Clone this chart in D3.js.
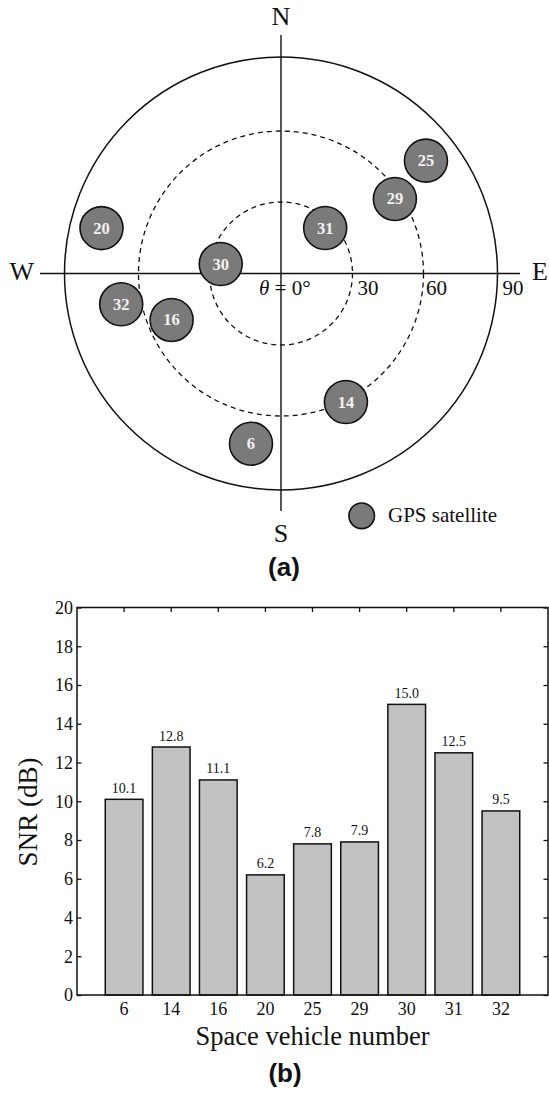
<!DOCTYPE html>
<html><head><meta charset="utf-8">
<script src="https://cdn.jsdelivr.net/npm/d3@7"></script>
<style>
body{margin:0;background:#fff}
svg{display:block}
</style>
</head><body>
<svg id="c" width="549" height="1094" style="font-family:'Liberation Serif','Times New Roman',serif"></svg>
<script>
// ---- Panel (a): sky plot data ----
const satIds     = ["25", "29", "20", "31", "30", "32", "16", "14", "6"];
const satZenith  = [76.7, 57.3, 77.3, 26.6, 25.6, 68.2, 50.0, 60.6, 72.3];   // deg from zenith (θ)
const satAzimuth = [52.1, 56.8, 284.2, 44.2, 278.9, 259.1, 247.0, 153.2, 190.0]; // deg clockwise from N
const ringTicks  = [30, 60, 90];
const compassLabels = ["N", "E", "S", "W"];
const legendLabel = "GPS satellite";

// ---- Panel (b): SNR bar chart data ----
const svNumbers = ["6", "14", "16", "20", "25", "29", "30", "31", "32"];
const snrValues = [10.1, 12.8, 11.1, 6.2, 7.8, 7.9, 15.0, 12.5, 9.5];
const yTickValues = [0, 2, 4, 6, 8, 10, 12, 14, 16, 18, 20];

const SERIF = "'Liberation Serif','Times New Roman',Times,serif";
const SANS = "'Liberation Sans',Arial,Helvetica,sans-serif";
const svg = d3.select("#c");
const ink = "#111";

// ================= Panel (a) =================
const cx = 281, cy = 273.5;
const r = d3.scaleLinear().domain([0, 30, 60, 90]).range([0, 71.5, 142.5, 216.5]);
const gA = svg.append("g").attr("transform", `translate(${cx},${cy})`);

gA.selectAll("circle.ring").data(ringTicks).join("circle")
  .attr("class", "ring")
  .attr("r", d => r(d))
  .attr("fill", "none")
  .attr("stroke", ink)
  .attr("stroke-width", d => d === 90 ? 1.5 : 1.3)
  .attr("stroke-dasharray", d => d === 90 ? null : "5,4");

gA.append("line").attr("x1", -241).attr("x2", 239).attr("y1", 0).attr("y2", 0)
  .attr("stroke", ink).attr("stroke-width", 1.4);
gA.append("line").attr("x1", 0).attr("x2", 0).attr("y1", -238.5).attr("y2", 237.5)
  .attr("stroke", ink).attr("stroke-width", 1.4);

const compassPos = {
  N: {x: 0, y: -248.5, a: "middle"},
  E: {x: 251, y: 6.5, a: "start"},
  S: {x: 0, y: 268.5, a: "middle"},
  W: {x: -247, y: 6.5, a: "end"}
};
gA.selectAll("text.compass").data(compassLabels).join("text")
  .attr("class", "compass")
  .attr("x", d => compassPos[d].x)
  .attr("y", d => compassPos[d].y)
  .attr("text-anchor", d => compassPos[d].a)
  .style("font-family", SERIF).style("fill", ink)
  .attr("font-size", 26)
  .text(d => d);

gA.selectAll("text.rt").data(ringTicks).join("text")
  .attr("class", "rt")
  .attr("x", d => r(d) + (d === 60 ? 2.5 : 5))
  .attr("y", 21)
  .style("font-family", SERIF).style("fill", ink)
  .attr("font-size", 21)
  .text(d => d);

const th = gA.append("text").attr("x", -22).attr("y", 21).attr("font-size", 21)
  .style("font-family", SERIF).style("fill", ink);
th.append("tspan").attr("font-style", "italic").text("θ");
th.append("tspan").text(" = 0°");

const sats = satIds.map((id, i) => {
  const a = satAzimuth[i] * Math.PI / 180, rr = r(satZenith[i]);
  return {id, x: rr * Math.sin(a), y: -rr * Math.cos(a)};
});
const gs = gA.selectAll("g.sat").data(sats).join("g")
  .attr("class", "sat")
  .attr("transform", d => `translate(${d.x},${d.y})`);
gs.append("circle").attr("r", 21.5)
  .attr("fill", "#7a7a7a").attr("stroke", ink).attr("stroke-width", 1.6);
gs.append("text").attr("text-anchor", "middle").attr("y", 5.5)
  .attr("font-size", 16.5).attr("font-weight", "bold")
  .style("font-family", SERIF).style("fill", "#f2f2f2").text(d => d.id);

svg.append("circle").attr("cx", 361.7).attr("cy", 515.8).attr("r", 12.8)
  .attr("fill", "#7a7a7a").attr("stroke", ink).attr("stroke-width", 1.6);
svg.append("text").attr("x", 388).attr("y", 521.7).attr("font-size", 21)
  .style("font-family", SERIF).style("fill", ink).text(legendLabel);

svg.append("text").attr("x", 284).attr("y", 576).attr("text-anchor", "middle")
  .style("font-family", SANS).style("fill", ink)
  .attr("font-weight", "bold").attr("font-size", 26).text("(a)");

// ================= Panel (b) =================
const L = 77, R = 548, T = 607.5, B = 995;
const x = d3.scaleBand().domain(svNumbers).range([L, R]).paddingInner(0.2).paddingOuter(0.6);
const y = d3.scaleLinear().domain([0, 20]).range([B, T]);
const gB = svg.append("g");

gB.append("g").attr("transform", `translate(${L},0)`)
  .call(d3.axisLeft(y).tickValues(yTickValues).tickSize(-4.5).tickPadding(4))
  .call(g => g.select(".domain").remove())
  .call(g => g.selectAll("line").attr("stroke", ink).attr("stroke-width", 1.3))
  .call(g => g.selectAll("text").attr("font-size", 18).style("font-family", SERIF).style("fill", ink));
gB.append("g").attr("transform", `translate(${R},0)`)
  .call(d3.axisRight(y).tickValues(yTickValues).tickSize(-4.5).tickFormat(""))
  .call(g => g.select(".domain").remove())
  .call(g => g.selectAll("line").attr("stroke", ink).attr("stroke-width", 1.3));
gB.append("g").attr("transform", `translate(0,${T})`)
  .call(d3.axisTop(x).tickSize(-4.5).tickFormat(""))
  .call(g => g.select(".domain").remove())
  .call(g => g.selectAll("line").attr("stroke", ink).attr("stroke-width", 1.3));
gB.append("g").attr("transform", `translate(0,${B})`)
  .call(d3.axisBottom(x).tickSize(0).tickPadding(7))
  .call(g => g.select(".domain").remove())
  .call(g => g.selectAll("text").attr("font-size", 18).style("font-family", SERIF).style("fill", ink));

gB.selectAll("rect.bar").data(snrValues).join("rect")
  .attr("class", "bar")
  .attr("x", (d, i) => x(svNumbers[i]))
  .attr("width", x.bandwidth())
  .attr("y", d => y(d))
  .attr("height", d => B - y(d))
  .attr("fill", "#c2c2c2").attr("stroke", ink).attr("stroke-width", 1.5);

gB.selectAll("text.val").data(snrValues).join("text")
  .attr("class", "val")
  .attr("x", (d, i) => x(svNumbers[i]) + x.bandwidth() / 2)
  .attr("y", d => y(d) - 6.5)
  .attr("text-anchor", "middle").attr("font-size", 14)
  .style("font-family", SERIF).style("fill", ink)
  .text(d => d.toFixed(1));

gB.append("rect").attr("x", L).attr("y", T).attr("width", R - L).attr("height", B - T)
  .attr("fill", "none").attr("stroke", ink).attr("stroke-width", 1.5);

gB.append("text").attr("x", (L + R) / 2).attr("y", 1045).attr("text-anchor", "middle")
  .attr("font-size", 26.5).style("font-family", SERIF).style("fill", ink)
  .text("Space vehicle number");
gB.append("text").attr("transform", "translate(37,812) rotate(-90)").attr("text-anchor", "middle")
  .attr("font-size", 27).style("font-family", SERIF).style("fill", ink)
  .text("SNR (dB)");

svg.append("text").attr("x", 285).attr("y", 1082).attr("text-anchor", "middle")
  .style("font-family", SANS).style("fill", ink)
  .attr("font-weight", "bold").attr("font-size", 26).text("(b)");
</script>
</body></html>
